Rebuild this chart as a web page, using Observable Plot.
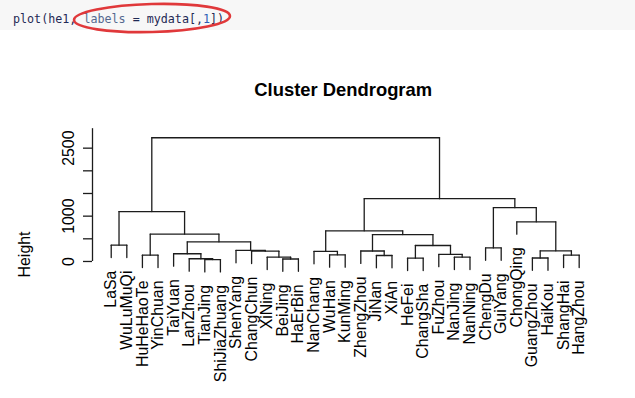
<!DOCTYPE html>
<html>
<head>
<meta charset="utf-8">
<script src="https://cdn.jsdelivr.net/npm/d3@7"></script>
<script src="https://cdn.jsdelivr.net/npm/@observablehq/plot@0.6"></script>
<style>
  body { margin: 0; background: #ffffff; }
  #wrap { position: relative; width: 635px; height: 398px; overflow: hidden; background: #fff; }
  #chart { position: absolute; left: 0; top: 0; }
  #code { position: absolute; left: 0; top: 0; }
</style>
</head>
<body>
<div id="wrap">
  <div id="chart"></div>
  <svg id="code" width="635" height="40" xmlns="http://www.w3.org/2000/svg">
    <rect x="0" y="0" width="635" height="30" fill="#f7f7f7"></rect>
    <text x="13" y="22.5" font-family="'DejaVu Sans Mono', 'Liberation Mono', monospace" font-size="11.7px" fill="#1f2a55" xml:space="preserve"><tspan>plot(he1, </tspan><tspan fill="#55688f">labels</tspan><tspan> = mydata[,</tspan><tspan fill="#2d5fb5">1</tspan><tspan>])</tspan></text>
    <ellipse cx="152" cy="18" rx="78" ry="14" fill="none" stroke="#e0383a" stroke-width="2.6" transform="rotate(-1.5 152 18)"></ellipse>
  </svg>
</div>
<script>
// ---- data ----
const labels = ["LaSa","WuLuMuQi","HuHeHaoTe","YinChuan","TaiYuan","LanZhou","TianJing","ShiJiaZhuang",
  "ShenYang","ChangChun","XiNing","BeiJing","HaErBin","NanChang","WuHan","KunMing","ZhengZhou","JiNan",
  "XiAn","HeFei","ChangSha","FuZhou","NanJing","NanNing","ChengDu","GuiYang","ChongQing","GuangZhou",
  "HaiKou","ShangHai","HangZhou"];
// merge list (negative = leaf number in display order, positive = earlier merge step)
const mergeA = [-7,-12,-6,-20,-28,-11,-23,-18,-3,-30,-15,-22,-5,-14,-10,-17,5,-9,-25,4,-1,13,16,9,14,-27,21,19,25,27];
const mergeB = [-8,-13,1,-21,-29,2,-24,-19,-4,-31,-16,7,3,11,6,8,10,15,-26,12,-2,18,20,22,23,17,24,26,28,29];
const mergeHeight = [42,55,60,73,77,95,95,132,140,140,147,158,170,221,227,231,235,243,298,353,360,433,593,605,676,875,1100,1187,1385,2730];
const yTicks = [0,500,1000,1500,2000,2500];
const yTickLabels = [0,1000,2500];
const titleText = "Cluster Dendrogram";
const yLabel = "Height";

// ---- layout of the tree from the merge list (as R's plot.hclust does) ----
const hang = 0.1 * d3.max(mergeHeight);
const nodeX = [], nodeH = [];
const segments = [];
const leaves = labels.map((name, i) => ({name, x: i + 1, bottom: 0}));
for (let i = 0; i < mergeA.length; i++) {
  const h = mergeHeight[i];
  const kids = [mergeA[i], mergeB[i]].map(c => c < 0
    ? {x: -c, leaf: leaves[-c - 1]}
    : {x: nodeX[c - 1], h: nodeH[c - 1]});
  nodeX[i] = (kids[0].x + kids[1].x) / 2;
  nodeH[i] = h;
  segments.push({x1: kids[0].x, y1: h, x2: kids[1].x, y2: h});
  for (const k of kids) {
    const bottom = k.leaf ? h - hang : k.h;
    if (k.leaf) k.leaf.bottom = bottom;
    segments.push({x1: k.x, y1: h, x2: k.x, y2: bottom});
  }
}

const n = labels.length;
const xDomain = [1 - 0.04 * (n - 1), n + 0.04 * (n - 1)];
const marginLeft = 92, marginRight = 37.6, W = 635;
const pxPerX = (W - marginLeft - marginRight) / (xDomain[1] - xDomain[0]);
const axisX = xDomain[0];
const tickLen = 9 / pxPerX;
const font = "'Liberation Sans', Arial, Helvetica, sans-serif";
const fs = 15.9;

const chart = Plot.plot({
  width: W,
  height: 398,
  marginLeft, marginRight,
  marginTop: 125,
  marginBottom: 91.7,
  style: {fontFamily: font, background: "white", overflow: "visible"},
  x: {domain: xDomain, axis: null},
  y: {domain: [-1000, 3000], axis: null},
  marks: [
    Plot.link(segments, {x1: "x1", y1: "y1", x2: "x2", y2: "y2", stroke: "#1c1c1c", strokeWidth: 1.3, strokeLinecap: "round"}),
    Plot.text(leaves, {x: "x", y: "bottom", text: "name", rotate: -90, textAnchor: "end", dy: 13, fontSize: fs, fill: "#000"}),
    Plot.ruleX([axisX], {y1: 0, y2: 2930, stroke: "#1c1c1c", strokeWidth: 1.3}),
    Plot.ruleY(yTicks, {y: d => d, x1: axisX - tickLen, x2: axisX, stroke: "#1c1c1c", strokeWidth: 1.3}),
    Plot.text(yTickLabels, {x: axisX, y: d => d, text: d => String(d), rotate: -90, dx: -24, fontSize: fs, fill: "#000"}),
    Plot.text([yLabel], {x: axisX, y: 154, text: d => d, rotate: -90, dx: -68, fontSize: fs, fill: "#000"}),
    Plot.text([titleText], {x: (xDomain[0] + xDomain[1]) / 2, frameAnchor: "top", text: d => d, lineAnchor: "bottom", dy: -30, dx: -2, fontSize: 18.4, fontWeight: "bold", fill: "#000"})
  ]
});
document.getElementById("chart").appendChild(chart);
</script>
</body>
</html>
